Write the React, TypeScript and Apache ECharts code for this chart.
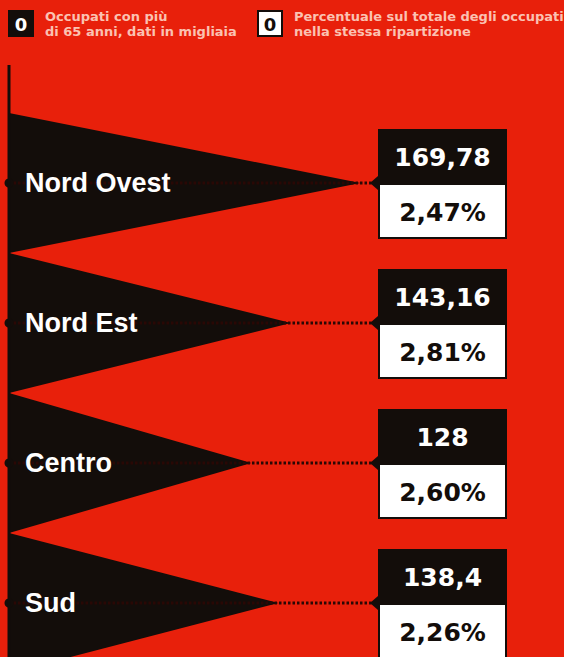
import React, { useEffect, useRef } from "react";
import * as echarts from "echarts";

const categories = ["Nord Ovest", "Nord Est", "Centro", "Sud"];
const workers = [169.78, 143.16, 128, 138.4];
const shares = [2.47, 2.81, 2.6, 2.26];

const RED = "#e8200b";
const BLACK = "#130d0a";
const LEGEND_TEXT = "#fbc2b2";

export default function App() {
  const ref = useRef<HTMLDivElement>(null);
  useEffect(() => {
    if (!ref.current) return;
    const chart = echarts.init(ref.current, null, { renderer: "svg" });
    const boxX = 378;
    const boxW = 129;
    const legendFont = 'bold 13px "DejaVu Sans"';
    const option = {
      animation: false,
      backgroundColor: RED,
      grid: { left: 9, top: 113, width: 404, height: 560, outerBoundsMode: "none" },
      xAxis: { type: "value", min: 35, max: 190, show: false },
      yAxis: { type: "category", data: categories, inverse: true, show: false },
      graphic: [
        { type: "line", shape: { x1: 9, y1: 65, x2: 9, y2: 657 }, style: { stroke: BLACK, lineWidth: 3 }, z: 10 },
        { type: "rect", shape: { x: 8, y: 10, width: 26, height: 27 }, style: { fill: BLACK } },
        {
          type: "text", x: 21, y: 24,
          style: { text: "0", fill: "#fff", font: 'bold 18px "DejaVu Sans"', align: "center", verticalAlign: "middle", textAlign: "center", textVerticalAlign: "middle" },
        },
        {
          type: "text", x: 45, y: 16,
          style: { text: "Occupati con più", fill: LEGEND_TEXT, font: legendFont, verticalAlign: "middle", textVerticalAlign: "middle" },
        },
        {
          type: "text", x: 45, y: 31,
          style: { text: "di 65 anni, dati in migliaia", fill: LEGEND_TEXT, font: legendFont, verticalAlign: "middle", textVerticalAlign: "middle" },
        },
        { type: "rect", shape: { x: 258, y: 11, width: 24, height: 25 }, style: { fill: "#fff", stroke: BLACK, lineWidth: 2 } },
        {
          type: "text", x: 270, y: 24,
          style: { text: "0", fill: BLACK, font: 'bold 18px "DejaVu Sans"', align: "center", verticalAlign: "middle", textAlign: "center", textVerticalAlign: "middle" },
        },
        {
          type: "text", x: 294, y: 16,
          style: { text: "Percentuale sul totale degli occupati", fill: LEGEND_TEXT, font: legendFont, verticalAlign: "middle", textVerticalAlign: "middle" },
        },
        {
          type: "text", x: 294, y: 31,
          style: { text: "nella stessa ripartizione", fill: LEGEND_TEXT, font: legendFont, verticalAlign: "middle", textVerticalAlign: "middle" },
        },
      ],
      series: [
        {
          type: "custom",
          data: categories.map((c, i) => [workers[i], i, shares[i]]),
          renderItem: (params: any, api: any) => {
            const v = api.value(0);
            const idx = api.value(1);
            const pct = api.value(2);
            const tip = api.coord([v, idx]);
            const x0 = api.coord([35, idx])[0];
            const y = tip[1];
            const h = api.size([0, 1])[1];
            const label = categories[params.dataIndex];
            const valText = String(v).replace(".", ",");
            const pctText = Number(pct).toFixed(2).replace(".", ",") + "%";
            return {
              type: "group",
              children: [
                {
                  type: "polygon",
                  shape: { points: [[x0, y - h / 2], [tip[0], y], [x0, y + h / 2]] },
                  style: { fill: BLACK },
                },
                {
                  type: "line",
                  shape: { x1: x0, y1: y, x2: boxX - 6, y2: y },
                  style: { stroke: "#2a0805", lineWidth: 3, lineDash: [2.5, 2] },
                },
                { type: "circle", shape: { cx: x0, cy: y, r: 4.5 }, style: { fill: BLACK } },
                {
                  type: "text", x: 25, y: y,
                  style: { text: label, fill: "#ffffff", font: 'bold 27px "Liberation Sans"', align: "left", verticalAlign: "middle", textAlign: "left", textVerticalAlign: "middle" },
                },
                {
                  type: "polygon",
                  shape: { points: [[boxX - 8, y], [boxX, y - 7], [boxX, y + 7]] },
                  style: { fill: BLACK },
                },
                { type: "rect", shape: { x: boxX, y: y - 54, width: boxW, height: 55 }, style: { fill: BLACK } },
                {
                  type: "rect",
                  shape: { x: boxX + 1, y: y + 1, width: boxW - 2, height: 54 },
                  style: { fill: "#ffffff", stroke: BLACK, lineWidth: 2 },
                },
                {
                  type: "text", x: boxX + boxW / 2, y: y - 26,
                  style: { text: valText, fill: "#ffffff", font: 'bold 25px "DejaVu Sans"', align: "center", verticalAlign: "middle", textAlign: "center", textVerticalAlign: "middle" },
                },
                {
                  type: "text", x: boxX + boxW / 2, y: y + 29,
                  style: { text: pctText, fill: BLACK, font: 'bold 25px "DejaVu Sans"', align: "center", verticalAlign: "middle", textAlign: "center", textVerticalAlign: "middle" },
                },
              ],
            };
          },
        },
      ],
    };
    chart.setOption(option as any);
    return () => chart.dispose();
  }, []);
  return (
    <div
      ref={ref}
      style={{ position: "fixed", left: 0, top: 0, width: 564, height: 657 }}
    />
  );
}
